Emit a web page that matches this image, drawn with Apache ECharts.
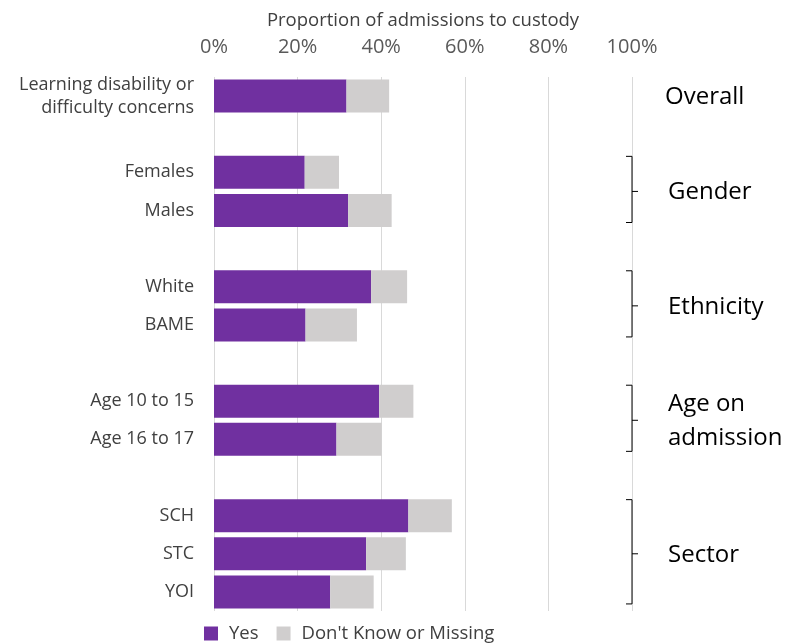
<!DOCTYPE html>
<html>
<head>
<meta charset="utf-8">
<script src="https://cdn.jsdelivr.net/npm/echarts@6/dist/echarts.min.js"></script>
<style>html,body{margin:0;padding:0;background:#fff}#c{width:792px;height:643px}</style>
</head>
<body>
<div id="c"></div>
<script>
var categories = ['Learning disability or\ndifficulty concerns', '', 'Females', 'Males', '', 'White', 'BAME', '', 'Age 10 to 15', 'Age 16 to 17', '', 'SCH', 'STC', 'YOI'];
var yesValues = [31.7, null, 21.7, 32.1, null, 37.6, 21.9, null, 39.5, 29.3, null, 46.5, 36.4, 27.8];
var dkValues = [10.2, null, 8.2, 10.4, null, 8.6, 12.3, null, 8.2, 10.8, null, 10.4, 9.5, 10.4];
var xTicks = [0, 20, 40, 60, 80, 100];
var seriesNames = ['Yes', "Don't Know or Missing"];
var groups = [
  {name: 'Overall', first: 0, last: 0, bracket: false},
  {name: 'Gender', first: 2, last: 3, bracket: true},
  {name: 'Ethnicity', first: 5, last: 6, bracket: true},
  {name: 'Age on\nadmission', first: 8, last: 9, bracket: true},
  {name: 'Sector', first: 11, last: 13, bracket: true}
];

var FONT = 'Open Sans';
var chart = echarts.init(document.getElementById('c'));
chart.setOption({
  animation: false,
  textStyle: {fontFamily: FONT},
  grid: {left: 214, right: 160, top: 77, bottom: 32, containLabel: false, outerBoundsMode: 'none'},
  legend: {
    top: 619, left: 199, itemWidth: 14, itemHeight: 14, itemGap: 18,
    icon: 'rect',
    textStyle: {fontFamily: FONT, fontSize: 18.5, color: '#404040', padding: [0, 0, 0, 6]},
    data: seriesNames
  },
  xAxis: {
    type: 'value', position: 'top', min: xTicks[0], max: xTicks[xTicks.length - 1], interval: 20,
    name: 'Proportion of admissions to custody', nameLocation: 'middle', nameGap: 47,
    nameTextStyle: {fontFamily: FONT, fontSize: 18.5, color: '#404040'},
    axisLine: {show: false}, axisTick: {show: false},
    axisLabel: {formatter: '{value}%', fontFamily: FONT, fontSize: 20, color: '#595959', margin: 20},
    splitLine: {lineStyle: {color: '#d9d9d9', width: 1}}
  },
  yAxis: {
    type: 'category', inverse: true, data: categories,
    axisLine: {show: false}, axisTick: {show: false},
    axisLabel: {fontFamily: FONT, fontSize: 18, color: '#404040', margin: 20, lineHeight: 23, align: 'right'}
  },
  series: [
    {name: seriesNames[0], type: 'bar', stack: 's', data: yesValues, barWidth: 33, itemStyle: {color: '#7030A0'}},
    {name: seriesNames[1], type: 'bar', stack: 's', data: dkValues, barWidth: 33, itemStyle: {color: '#D0CECE'}}
  ]
});

var elements = [];
groups.forEach(function (g) {
  var y1 = chart.convertToPixel({yAxisIndex: 0}, g.first);
  var y2 = chart.convertToPixel({yAxisIndex: 0}, g.last);
  var mid = (y1 + y2) / 2;
  if (g.bracket) {
    var top = y1 - 16, bot = y2 + 12, x = 632;
    elements.push({
      type: 'polyline', silent: true,
      shape: {points: [[x - 6, top], [x, top], [x, bot], [x - 6, bot]]},
      style: {stroke: '#000', lineWidth: 1, fill: null}
    });
    elements.push({
      type: 'line', silent: true,
      shape: {x1: x, y1: mid, x2: x + 6, y2: mid},
      style: {stroke: '#000', lineWidth: 1}
    });
  }
  elements.push({
    type: 'text', silent: true,
    x: g.bracket ? 668 : 665, y: mid + 1,
    style: {text: g.name, fontFamily: FONT, fontSize: 24, fill: '#000', verticalAlign: 'middle', align: 'left', lineHeight: 34}
  });
});
chart.setOption({graphic: elements});
</script>
</body>
</html>
